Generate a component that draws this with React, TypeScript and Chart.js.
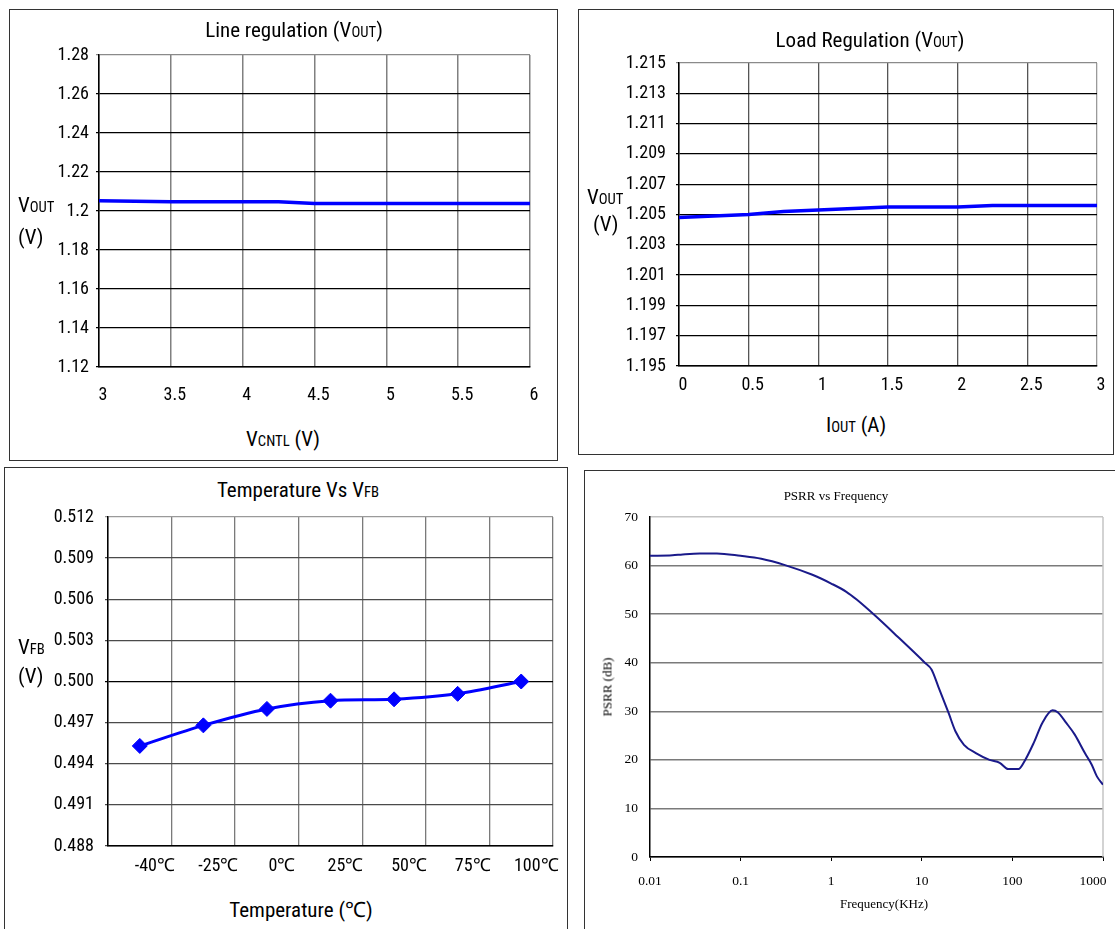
import React, { useEffect, useRef } from 'react';
import { Chart, registerables } from 'chart.js';
Chart.register(...registerables);

const NARROW = "'Liberation Sans Narrow', 'Arial Narrow', 'Roboto Condensed', 'Liberation Sans', sans-serif";
const SERIF = "'Liberation Serif', 'DejaVu Serif', serif";

// ---- Line regulation ----
const lineRegVcntl = [3, 3.5, 4, 4.25, 4.5, 5, 5.5, 6];
const lineRegVout = [1.2053, 1.2047, 1.2047, 1.2047, 1.2039, 1.2039, 1.2039, 1.2039];
const lineRegXTicks = [3, 3.5, 4, 4.5, 5, 5.5, 6];
const lineRegYTicks = [1.12, 1.14, 1.16, 1.18, 1.2, 1.22, 1.24, 1.26, 1.28];

// ---- Load regulation ----
const loadRegIout = [0, 0.5, 0.75, 1, 1.5, 2, 2.25, 2.5, 3];
const loadRegVout = [1.2048, 1.205, 1.2052, 1.2053, 1.2055, 1.2055, 1.2056, 1.2056, 1.2056];
const loadRegXTicks = [0, 0.5, 1, 1.5, 2, 2.5, 3];
const loadRegYTicks = [1.195, 1.197, 1.199, 1.201, 1.203, 1.205, 1.207, 1.209, 1.211, 1.213, 1.215];

// ---- Temperature vs VFB ----
const tempLabels = ['-40℃', '-25℃', '0℃', '25℃', '50℃', '75℃', '100℃'];
const vfbValues = [0.4953, 0.4968, 0.498, 0.4986, 0.4987, 0.4991, 0.5];
const vfbYTicks = [0.488, 0.491, 0.494, 0.497, 0.5, 0.503, 0.506, 0.509, 0.512];

// ---- PSRR vs Frequency ----
const psrrFreq = [0.01, 0.0177, 0.0229, 0.0355, 0.0547, 0.1, 0.169, 0.309, 0.62, 1, 1.47, 1.91, 3.09, 5.38, 10.8, 12.8, 15.2, 19.8, 23.5, 29.2, 39.5, 55.9, 72.4, 90, 117, 133, 172, 214, 277, 316, 393, 488, 631, 751, 856, 1000];
const psrrDb = [62.0, 62.1, 62.3, 62.5, 62.5, 62.0, 61.4, 60.1, 58.1, 56.3, 54.6, 53.0, 49.6, 45.4, 40.0, 38.6, 35.1, 29.6, 25.9, 23.1, 21.4, 20.0, 19.4, 18.1, 18.1, 19.4, 23.5, 27.6, 30.2, 29.8, 27.6, 25.2, 21.4, 19.0, 16.6, 14.9];
const psrrXTicks = [0.01, 0.1, 1, 10, 100, 1000];
const psrrYTicks = [0, 10, 20, 30, 40, 50, 60, 70];

type Geo = { plotL: number; plotT: number; plotR: number; plotB: number; ly: number; hx: number; pt: number; pr: number };

function box(g: Geo) {
  return {
    left: g.plotL - g.ly,
    top: g.plotT - g.pt,
    width: g.ly + (g.plotR - g.plotL) + g.pr,
    height: g.pt + (g.plotB - g.plotT) + g.hx,
  };
}

const fixY = (g: Geo) => (s: any) => { s.width = g.ly; s.paddingTop = 0; s.paddingBottom = 0; };
const fixX = (g: Geo) => (s: any) => { s.height = g.hx; s.paddingLeft = 0; s.paddingRight = 0; };
const setTicks = (vals: number[]) => (s: any) => { s.ticks = vals.map((v) => ({ value: v })); };

const rightFrame = (color: string) => ({
  id: 'rightFrame',
  beforeDatasetsDraw(chart: any) {
    const { ctx, chartArea } = chart;
    ctx.save();
    ctx.strokeStyle = color;
    ctx.lineWidth = 1.5;
    ctx.beginPath();
    ctx.moveTo(chartArea.right, chartArea.top);
    ctx.lineTo(chartArea.right, chartArea.bottom);
    ctx.stroke();
    ctx.restore();
  },
});

function ChartCanvas({ geo, make }: { geo: Geo; make: (g: Geo) => any }) {
  const ref = useRef<HTMLCanvasElement>(null);
  useEffect(() => {
    const chart = new Chart(ref.current as HTMLCanvasElement, make(geo));
    return () => chart.destroy();
  }, []);
  const b = box(geo);
  return (
    <canvas
      ref={ref}
      width={b.width}
      height={b.height}
      style={{ position: 'absolute', left: b.left, top: b.top, width: b.width, height: b.height }}
    />
  );
}

const baseOpts = (g: Geo) => ({
  responsive: false,
  animation: false as const,
  devicePixelRatio: 1,
  layout: { padding: { left: 0, top: g.pt, right: g.pr, bottom: 0 } },
  plugins: { legend: { display: false }, tooltip: { enabled: false }, title: { display: false } },
});

const geo1: Geo = { plotL: 99, plotT: 55, plotR: 530, plotB: 367, ly: 90, hx: 45, pt: 15, pr: 22 };
const geo2: Geo = { plotL: 679, plotT: 63, plotR: 1097, plotB: 366, ly: 90, hx: 45, pt: 15, pr: 14 };
const geo3: Geo = { plotL: 108, plotT: 517, plotR: 553, plotB: 846, ly: 95, hx: 40, pt: 15, pr: 12 };
const geo4: Geo = { plotL: 650, plotT: 517, plotR: 1103, plotB: 857, ly: 60, hx: 40, pt: 15, pr: 12 };

const tickFont = { family: NARROW, size: 18 };

const make1 = (g: Geo) => ({
  type: 'line',
  data: {
    datasets: [{
      data: lineRegVcntl.map((x, i) => ({ x, y: lineRegVout[i] })),
      borderColor: '#0000ff', borderWidth: 3.5, pointRadius: 0, tension: 0,
    }],
  },
  options: {
    ...baseOpts(g),
    scales: {
      x: {
        type: 'linear', min: 3, max: 6,
        afterBuildTicks: setTicks(lineRegXTicks), afterFit: fixX(g),
        grid: { color: '#808080', lineWidth: 1.5, drawTicks: false },
        border: { display: true, color: '#000', width: 1.5 },
        ticks: { font: tickFont, color: '#000', padding: 18, labelOffset: 4, maxRotation: 0, autoSkip: false, callback: (v: number) => String(v) },
      },
      y: {
        type: 'linear', min: 1.12, max: 1.28,
        afterBuildTicks: setTicks(lineRegYTicks), afterFit: fixY(g),
        grid: { color: (c: any) => (c.tick && c.tick.value === 1.28 ? '#8a8a8a' : '#000'), lineWidth: 1.3, drawTicks: true, tickLength: 3 },
        border: { display: true, color: '#000', width: 1.5 },
        ticks: { font: tickFont, color: '#000', padding: 7, autoSkip: false, callback: (v: number) => String(parseFloat(v.toFixed(2))) },
      },
    },
  },
});

const make2 = (g: Geo) => ({
  type: 'line',
  data: {
    datasets: [{
      data: loadRegIout.map((x, i) => ({ x, y: loadRegVout[i] })),
      borderColor: '#0000ff', borderWidth: 3.5, pointRadius: 0, tension: 0,
    }],
  },
  options: {
    ...baseOpts(g),
    scales: {
      x: {
        type: 'linear', min: 0, max: 3,
        afterBuildTicks: setTicks(loadRegXTicks), afterFit: fixX(g),
        grid: { color: (c: any) => (c.tick && c.tick.value === 3 ? '#9a9a9a' : '#555'), lineWidth: 1.3, drawTicks: false },
        border: { display: true, color: '#000', width: 1.5 },
        ticks: { font: tickFont, color: '#000', padding: 9, labelOffset: 4, maxRotation: 0, autoSkip: false, callback: (v: number) => String(v) },
      },
      y: {
        type: 'linear', min: 1.195, max: 1.215,
        afterBuildTicks: setTicks(loadRegYTicks), afterFit: fixY(g),
        grid: { color: (c: any) => (c.tick && Math.abs(c.tick.value - 1.215) < 1e-6 ? '#8a8a8a' : '#000'), lineWidth: 1.3, drawTicks: true, tickLength: 3 },
        border: { display: true, color: '#000', width: 1.5 },
        ticks: { font: tickFont, color: '#000', padding: 10, autoSkip: false, callback: (v: number) => v.toFixed(3) },
      },
    },
  },
});

const make3 = (g: Geo) => ({
  type: 'line',
  data: {
    labels: tempLabels,
    datasets: [{
      data: vfbValues,
      borderColor: '#0000ff', backgroundColor: '#0000ff', borderWidth: 3,
      pointStyle: 'rectRot', pointRadius: 7.5, pointBorderWidth: 1, tension: 0.3,
    }],
  },
  options: {
    ...baseOpts(g),
    scales: {
      x: {
        type: 'category', offset: true, afterFit: fixX(g),
        grid: { offset: true, color: '#7a7a7a', lineWidth: 1.3, drawTicks: false },
        border: { display: true, color: '#000', width: 1.5 },
        ticks: { font: tickFont, color: '#000', padding: 10, labelOffset: 15, maxRotation: 0, autoSkip: false },
      },
      y: {
        type: 'linear', min: 0.488, max: 0.512,
        afterBuildTicks: setTicks(vfbYTicks), afterFit: fixY(g),
        grid: { color: (c: any) => (c.tick && Math.abs(c.tick.value - 0.5) < 1e-6 ? '#000' : (c.tick && Math.abs(c.tick.value - 0.512) < 1e-6 ? '#9a9a9a' : '#4a4a4a')), lineWidth: 1.3, drawTicks: true, tickLength: 3 },
        border: { display: true, color: '#000', width: 1.5 },
        ticks: { font: tickFont, color: '#000', padding: 11, autoSkip: false, callback: (v: number) => v.toFixed(3) },
      },
    },
  },
});

const serifTick = { family: SERIF, size: 13.5 };

const make4 = (g: Geo) => ({
  type: 'line',
  data: {
    datasets: [{
      data: psrrFreq.map((x, i) => ({ x, y: psrrDb[i] })),
      borderColor: '#1a1a8a', borderWidth: 2, pointRadius: 0, cubicInterpolationMode: 'monotone',
    }],
  },
  plugins: [rightFrame('#c4c4c4')],
  options: {
    ...baseOpts(g),
    scales: {
      x: {
        type: 'logarithmic', min: 0.01, max: 1000,
        afterBuildTicks: setTicks(psrrXTicks), afterFit: fixX(g),
        grid: { drawOnChartArea: false, drawTicks: true, tickLength: 4, color: '#000', lineWidth: 1 },
        border: { display: true, color: '#000', width: 1.5 },
        ticks: {
          font: serifTick, color: '#000', padding: 12, maxRotation: 0, autoSkip: false,
          // last label is pulled inward (as in the original) with trailing figure spaces
          callback: (v: number) => (v === 1000 ? '1000\u2007\u2007\u2007' : String(v)),
        },
      },
      y: {
        type: 'linear', min: 0, max: 70,
        afterBuildTicks: setTicks(psrrYTicks), afterFit: fixY(g),
        grid: { color: (c: any) => (c.tick && c.tick.value === 70 ? '#c4c4c4' : '#7a7a7a'), lineWidth: 1.5, drawTicks: false },
        border: { display: true, color: '#000', width: 1.5 },
        ticks: { font: serifTick, color: '#000', padding: 12, autoSkip: false, callback: (v: number) => String(v) },
      },
    },
  },
});

function Txt({ x, y, size, family = NARROW, anchor = 'center', rotate = false, children }: any) {
  const tx = anchor === 'center' ? '-50%' : '0';
  return (
    <div
      style={{
        position: 'absolute', left: x, top: y, whiteSpace: 'nowrap', fontSize: size, fontFamily: family,
        lineHeight: 1, color: '#000',
        transform: `translate(${tx}, -50%)${rotate ? ' rotate(-90deg)' : ''}`,
        transformOrigin: rotate ? '50% 50%' : undefined,
      }}
    >
      {children}
    </div>
  );
}

const Sub = ({ children }: any) => <span style={{ fontSize: '0.7em', verticalAlign: '-0.05em' }}>{children}</span>;

function Panel({ l, t, w, h, right = true, bottom = true }: any) {
  return (
    <div
      style={{
        position: 'absolute', left: l, top: t, width: w, height: h, boxSizing: 'border-box',
        borderTop: '1.5px solid #333', borderLeft: '1.5px solid #333',
        borderRight: right ? '1.5px solid #333' : 'none', borderBottom: bottom ? '1.5px solid #333' : 'none',
      }}
    />
  );
}

export default function App() {
  return (
    <div style={{ position: 'absolute', left: 0, top: 0, width: 1115, height: 929, overflow: 'hidden', background: '#fff' }}>
      <Panel l={9} t={9} w={549} h={452} />
      <Panel l={578} t={9} w={536} h={446} />
      <Panel l={4} t={467} w={564} h={462} bottom={false} />
      <Panel l={584} t={470} w={531} h={459} right={false} bottom={false} />

      <ChartCanvas geo={geo1} make={make1} />
      <ChartCanvas geo={geo2} make={make2} />
      <ChartCanvas geo={geo3} make={make3} />
      <ChartCanvas geo={geo4} make={make4} />

      <Txt x={294} y={30} size={21}>Line regulation (V<Sub>OUT</Sub>)</Txt>
      <Txt x={18} y={205} size={21} anchor="left">V<Sub>OUT</Sub></Txt>
      <Txt x={18} y={237} size={21} anchor="left">(V)</Txt>
      <Txt x={283} y={439} size={21}>V<Sub>CNTL</Sub> (V)</Txt>

      <Txt x={870} y={40} size={21}>Load Regulation (V<Sub>OUT</Sub>)</Txt>
      <Txt x={587} y={197} size={21} anchor="left">V<Sub>OUT</Sub></Txt>
      <Txt x={593} y={224} size={21} anchor="left">(V)</Txt>
      <Txt x={856} y={425} size={21}>I<Sub>OUT</Sub> (A)</Txt>

      <Txt x={298} y={490} size={21}>Temperature Vs V<Sub>FB</Sub></Txt>
      <Txt x={18} y={647} size={21} anchor="left">V<Sub>FB</Sub></Txt>
      <Txt x={18} y={676} size={21} anchor="left">(V)</Txt>
      <Txt x={301} y={910} size={21}>Temperature (℃)</Txt>

      <Txt x={836} y={495} size={13} family={SERIF}>PSRR vs Frequency</Txt>
      <Txt x={607} y={687} size={13} family={SERIF} rotate>PSRR (dB)</Txt>
      <Txt x={884} y={903} size={13} family={SERIF}>Frequency(KHz)</Txt>
    </div>
  );
}
